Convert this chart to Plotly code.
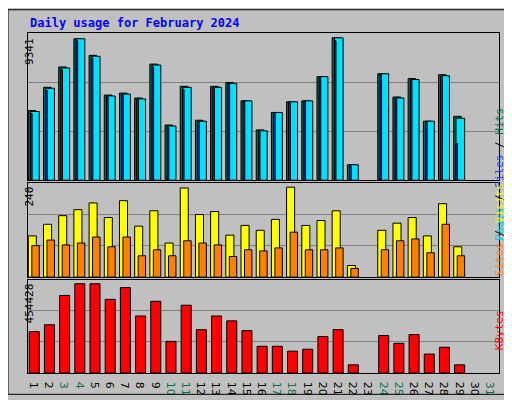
import plotly.graph_objects as go

days = list(range(1, 32))
day_labels = [str(d) for d in days]
weekend_days = [3, 4, 10, 11, 17, 18, 24, 25, 31]
N = None
hits = [4572, 6096, 7430, 9280, 8192, 5588, 5715, 5398, 7620, 3620, 6160, 3937, 6160, 6414, 5207, 3302,
        4445, 5144, 5207, 6795, 9341, 1016, N, 6985, 5461, 6668, 3874, 6922, 4191, N, N]
pages = [4508, 6032, 7366, 9280, 8128, 5524, 5651, 5334, 7556, 3556, 6096, 3873, 6096, 6350, 5207, 3238,
         4445, 5144, 5207, 6795, 9341, 1016, N, 6985, 5397, 6604, 3874, 6858, 4064, N, N]
files = [4380, 5900, 7240, 9150, 8000, 5460, 5590, 5270, 7430, 3490, 5970, 3810, 6030, 6280, 5207, 3170,
         4380, 5080, 5150, 6730, 9150, 950, N, 6920, 5330, 6540, 3810, 6790, 2413, N, N]
visits = [110, 141, 164, 180, 198, 159, 204, 136, 177, 91, 238, 167, 175, 112, 138, 125,
          154, 240, 138, 151, 177, 31, N, 125, 144, 159, 110, 196, 81, N, N]
sites = [84, 99, 86, 91, 107, 81, 107, 57, 73, 57, 97, 91, 86, 55, 73, 70,
         78, 120, 73, 73, 78, 23, N, 73, 97, 102, 65, 141, 57, N, N]
kbytes = [210600, 245500, 394700, 454428, 454428, 374800, 434500, 290200, 364900, 160900, 345000,
          220600, 290200, 265400, 215600, 136000, 136000, 111100, 121100, 185800, 220600, 41500, N,
          190700, 150900, 195700, 96200, 131000, 41500, N, N]

ticktext = [f"<span style='color:#007050'>{d}</span>" if d in weekend_days else str(d) for d in days]

fig = go.Figure()
ln = dict(color="black", width=1)

def bar(y, color, offset, width, xa, ya):
    fig.add_trace(go.Bar(x=days, y=y, marker=dict(color=color, line=ln), offset=offset,
                         width=width, xaxis=xa, yaxis=ya, showlegend=False, hoverinfo="skip"))

bar(hits, "#006f4f", -0.48, 0.5, "x", "y")
bar(pages, "#00e0ff", -0.33, 0.57, "x", "y")
bar(files, "#2040ff", -0.33, 0.1, "x", "y")
bar(visits, "#ffff00", -0.48, 0.53, "x2", "y2")
bar(sites, "#ff8000", -0.25, 0.49, "x2", "y2")
bar(kbytes, "#ff0000", -0.42, 0.66, "x3", "y3")

maxes = [9341 * 152 / 147, 240 * 96 / 92, 454428 * 96 / 92]
domains = [[0.567, 1.0], [0.282, 0.558], [0.0, 0.274]]
layout = {}
for i, (m, d) in enumerate(zip(maxes, domains)):
    sx = "" if i == 0 else str(i + 1)
    layout["xaxis" + sx] = dict(range=[0.5, 31.5], domain=[0, 1], anchor="y" + sx,
                                showgrid=False, zeroline=False,
                                showline=True, linecolor="black", mirror=True,
                                tickvals=days if i == 2 else [], ticktext=ticktext if i == 2 else None,
                                ticks="", tickfont=dict(family="DejaVu Sans", size=11, color="black"))
    layout["yaxis" + sx] = dict(range=[0, m], domain=d, anchor="x" + sx,
                                tickvals=[m / 3, 2 * m / 3], showticklabels=False,
                                gridcolor="#808080", gridwidth=1, zeroline=False,
                                showline=True, linecolor="black", mirror=True)
fig.update_layout(**layout)

mono = "DejaVu Sans Mono"
ann = [
    dict(text="<b>Daily usage for February 2024</b>", x=20, y=15, xanchor="left", yanchor="middle",
         font=dict(family=mono, size=12, color="#0000ff")),
    dict(text="9341", x=13, y=28, textangle=-90, yanchor="top"),
    dict(text="240", x=13, y=182, textangle=-90, yanchor="top"),
    dict(text="454428", x=13, y=282, textangle=-90, yanchor="top"),
    dict(text="<span style='color:#00c8e8'>Pages</span> / <span style='color:#2040ff'>Files</span> / <span style='color:#007050'>Hits</span>",
         x=500, y=100, textangle=-90),
    dict(text="<span style='color:#ff8000'>Sites</span> / <span style='color:#ffff00'>Visits</span>",
         x=500, y=228, textangle=-90),
    dict(text="<span style='color:#ff0000'>KBytes</span>", x=500, y=355, textangle=-90),
]
annotations = []
for a in ann:
    a.setdefault("font", dict(family=mono, size=11, color="black"))
    a["x"] = (a["x"] - 20) / 471
    a["y"] = (376 - a["y"]) / 351
    annotations.append(dict(xref="paper", yref="paper", showarrow=False, **a))

fig.update_layout(
    width=512, height=400, margin=dict(l=20, r=21, t=25, b=24),
    paper_bgcolor="#c0c0c0", plot_bgcolor="#c0c0c0", barmode="overlay",
    annotations=annotations,
    shapes=[dict(type="rect", xref="paper", yref="paper", x0=-20/471, x1=1+19/471,
                 y0=-22/351, y1=1+24/351, line=dict(color="black", width=1))],
)
fig.write_html("out.html")
